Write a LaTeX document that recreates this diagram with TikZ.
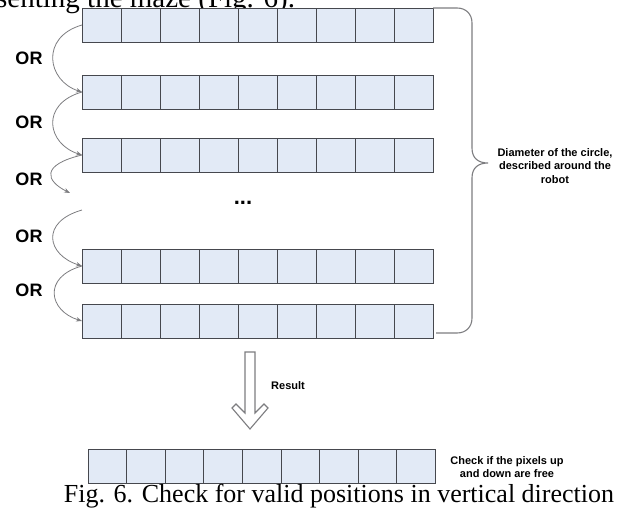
\documentclass[tikz,border=0pt]{standalone}
\usepackage{fontspec}
\setmainfont{Liberation Serif}
\setsansfont{Liberation Sans}
\usetikzlibrary{arrows.meta}

\definecolor{cellblue}{RGB}{226,234,246}
\definecolor{celledge}{RGB}{70,72,78}
\definecolor{linegray}{RGB}{125,125,128}

\tikzset{
  cell/.style={draw=celledge, fill=cellblue, line width=1pt,
    minimum width=39pt, minimum height=34pt, inner sep=0pt, outer sep=0pt},
  rescell/.style={cell, minimum width=38.6pt},
  orarrow/.style={draw=linegray, line width=0.8pt, -{Stealth[length=6pt,width=4.5pt]}},
  orlabel/.style={font=\fontsize{18}{20}\selectfont\sffamily\bfseries},
  notetext/.style={font=\fontsize{11}{13.5}\selectfont\sffamily\bfseries, align=center},
  bracket/.style={draw=linegray, line width=1.1pt},
  hollow/.style={draw=linegray, fill=white, line width=1.1pt, line join=miter}
}

\begin{document}
\begin{tikzpicture}[x=1pt, y=-1pt]
    \useasboundingbox (0,0) rectangle (627,509);

    % Text of the page above the figure
    \node[anchor=base west, inner sep=0pt, font=\fontsize{29}{32}\selectfont] (prevtext) at (-4,7) {senting the maze (Fig. 6).};

    % Draw the rows of pixels
    \foreach \r/\top in {1/8, 2/75, 3/138, 4/249, 5/304} {
        \foreach \c in {1,...,9} {
            \node[cell] (r\r-\c) at ({82+39*(\c-1)+19.5}, {\top+17}) {};
        }
    }
    \node[font=\fontsize{22}{24}\selectfont\sffamily\bfseries] (dots) at (243,203) {...};

    % OR labels and curved arrows
    \foreach \i/\y in {1/58, 2/122, 3/179, 4/236, 5/290} {
        \node[orlabel] (or\i) at (29,\y) {OR};
    }
    \coordinate (gap-end) at (70,193);
    \coordinate (gap-start) at (82,210);
    \draw[orarrow] (r1-1.west) .. controls +(-42,12) and +(-35,-11) .. (r2-1.west);
    \draw[orarrow] (r2-1.west) .. controls +(-42,12) and +(-35,-11) .. (r3-1.west);
    \draw[orarrow] (r3-1.west) .. controls +(-42,10) and +(-24,-12) .. (gap-end);
    \draw[orarrow] (gap-start) .. controls +(-42,12) and +(-35,-11) .. (r4-1.west);
    \draw[orarrow] (r4-1.west) .. controls +(-40,11) and +(-33,-10) .. (r5-1.west);

    % Brace on the right
    \coordinate (brace-tip) at (488,163);
    \draw[bracket] (r1-9.north east) -- (457,8) .. controls (466,8) and (472,14) .. (472,23)
        -- (472,148) .. controls (472,158) and (478,163) .. (brace-tip)
        .. controls (478,163) and (472,168) .. (472,178)
        -- (472,318) .. controls (472,327) and (466,333) .. (457,333) -- (436,333);
    \node[notetext] (diam) at (555,166) {Diameter of the circle,\\described around the\\robot};

    % Hollow arrow for the result
    \coordinate (arr-top) at (250,352);
    \draw[hollow] ([xshift=-5pt]arr-top) -- ([xshift=5pt]arr-top) -- (255,413) -- (264,404)
        -- (268,408) -- (250,429) -- (232,408) -- (236,404) -- (245,413) -- cycle;
    \node[notetext] (result) at (288,386) {Result};

    % Resulting row
    \foreach \c in {1,...,9} {
        \node[rescell] (res-\c) at ({88+38.6*(\c-1)+19.3}, 466) {};
    }
    \node[notetext] (check) at (507,467) {Check if the pixels up\\and down are free};

    % Caption
    \node[anchor=base, inner sep=0pt, font=\fontsize{26}{29}\selectfont] (caption) at (339,502.5) {Fig. 6. Check for valid positions in vertical direction};
\end{tikzpicture}
\end{document}
